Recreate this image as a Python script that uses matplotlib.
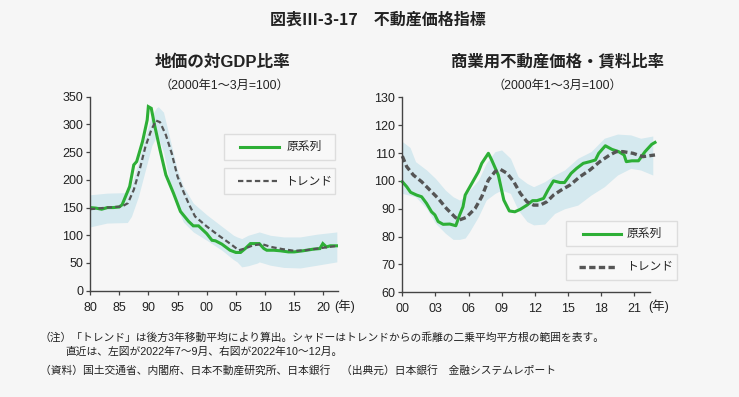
import numpy as np
import matplotlib
matplotlib.use('Agg')
import matplotlib.pyplot as plt
from matplotlib.lines import Line2D
from matplotlib.patches import Rectangle

plt.rcParams['font.family'] = ['Liberation Sans', 'Noto Sans CJK JP', 'DejaVu Sans']

# --- 地価の対GDP比率 (左図) ---
land_x = [1980.0, 1981.0, 1982.0, 1983.0, 1984.0, 1985.0, 1985.5, 1986.8, 1987.5, 1988.0,
          1989.0, 1989.8, 1990.0, 1990.5, 1991.0, 1992.0, 1993.0, 1994.3, 1995.5, 1996.9,
          1997.7, 1998.6, 2000.0, 2000.9, 2001.5, 2002.6, 2004.0, 2005.0, 2005.8, 2006.6,
          2007.5, 2009.0, 2009.8, 2010.3, 2011.5, 2012.6, 2014.0, 2015.0, 2016.5, 2018.3,
          2019.4, 2019.9, 2020.5, 2021.2, 2022.5]
land_raw = [150, 149, 147, 150, 150, 151, 155, 188, 227, 233,
            269, 308, 332, 329, 302, 254, 209, 176, 143, 125,
            117, 117, 103, 91, 90, 84, 73, 69, 69, 76,
            85, 85, 76, 73, 73, 72, 70, 70, 72, 75,
            76, 85, 79, 81, 81]

land_trend_x = [1980.0, 1983.0, 1985.5, 1986.5, 1987.5, 1988.5, 1989.5, 1990.5, 1991.3, 1992.0,
                1993.0, 1994.0, 1995.0, 1996.0, 1997.0, 1998.0, 2000.0, 2002.0, 2004.0, 2005.5,
                2006.5, 2008.0, 2009.5, 2011.0, 2013.0, 2015.0, 2017.0, 2019.0, 2021.0, 2022.5]
land_trend = [147, 150, 152, 158, 182, 218, 260, 290, 307, 304,
              281, 248, 206, 179, 155, 134, 116, 100, 85, 73,
              76, 82, 84, 79, 75, 72, 73, 76, 79, 81]

land_band_x = [1980.0, 1982.9, 1986.4, 1987.1, 1988.3, 1989.5, 1990.6, 1991.4, 1991.7, 1992.6,
               1993.7, 1994.9, 1996.0, 1997.7, 2000.0, 2002.6, 2004.6, 2005.2, 2006.0, 2007.1,
               2008.7, 2009.0, 2010.9, 2013.2, 2016.0, 2018.9, 2022.3]
land_band_hi = [173, 176, 177, 190, 232, 280, 316, 330, 332, 322,
                274, 220, 188, 158, 137, 116, 100, 97, 94, 100,
                105, 106, 100, 97, 97, 102, 106]
land_band_lo = [115, 122, 123, 134, 170, 218, 262, 278, 276, 250,
                194, 150, 124, 106, 91, 73, 56, 52, 43, 45,
                50, 52, 46, 42, 41, 46, 52]

# --- 商業用不動産価格・賃料比率 (右図) ---
com_x = [2000.0, 2000.4, 2000.75, 2001.3, 2001.75, 2002.2, 2002.65, 2002.95, 2003.25, 2003.7,
         2004.3, 2004.85, 2005.2, 2005.5, 2005.7, 2006.3, 2006.9, 2007.2, 2007.8, 2008.1,
         2008.7, 2009.2, 2009.7, 2010.2, 2010.7, 2011.3, 2011.8, 2012.2, 2012.8, 2013.2,
         2013.7, 2014.3, 2014.7, 2015.3, 2015.8, 2016.4, 2017.0, 2017.5, 2017.8, 2018.4,
         2019.0, 2019.6, 2020.1, 2020.3, 2020.8, 2021.4, 2022.0, 2022.6, 2022.9]
com_raw = [99.7, 97.9, 95.9, 94.9, 94.3, 91.9, 88.9, 87.8, 85.4, 84.4,
           84.5, 83.9, 87.8, 90.7, 94.9, 99.1, 103.3, 106.3, 109.9, 107.5,
           102.1, 93.1, 89.2, 88.9, 89.8, 91.3, 92.9, 92.9, 93.7, 96.7,
           100.0, 99.4, 99.4, 102.7, 104.5, 106.3, 106.9, 107.5, 109.9, 112.6,
           111.3, 110.5, 109.3, 106.9, 107.2, 107.2, 110.5, 113.1, 113.8]

com_trend_x = [2000.0, 2000.4, 2001.0, 2001.75, 2002.5, 2003.25, 2004.0, 2004.8, 2005.2, 2005.8,
               2006.6, 2007.2, 2007.8, 2008.4, 2008.9, 2009.5, 2010.1, 2010.7, 2011.3, 2011.9,
               2012.5, 2013.1, 2013.7, 2014.4, 2015.2, 2016.1, 2017.0, 2017.9, 2018.8, 2019.4,
               2020.0, 2020.9, 2021.8, 2022.9]
com_trend = [108.9, 105.1, 102.1, 99.7, 96.7, 93.7, 90.1, 86.9, 86.0, 86.9,
             90.1, 94.3, 100.3, 103.3, 104.1, 102.7, 99.7, 95.5, 92.5, 91.3,
             91.3, 92.5, 94.9, 96.7, 98.5, 101.5, 103.9, 106.9, 109.3, 110.5,
             110.5, 109.9, 108.7, 109.3]

com_band_x = [2000.0, 2000.7, 2001.2, 2002.2, 2003.0, 2003.9, 2004.6, 2005.2, 2005.7, 2006.1,
              2006.9, 2007.6, 2008.4, 2009.0, 2009.8, 2010.5, 2011.3, 2011.9, 2012.9, 2013.8,
              2014.7, 2015.9, 2017.1, 2018.3, 2019.5, 2020.7, 2021.6, 2022.7]
com_band_hi = [114.1, 112.0, 106.9, 103.9, 100.9, 96.7, 94.3, 93.1, 94.5, 96.7,
               100.3, 106.3, 110.5, 111.1, 108.1, 101.5, 99.1, 97.9, 99.7, 102.1,
               103.9, 108.1, 110.5, 115.3, 116.8, 116.5, 115.3, 116.1]
com_band_lo = [95.5, 94.8, 94.3, 90.1, 84.8, 81.2, 79.0, 79.0, 79.5, 81.8,
               87.2, 93.1, 95.5, 96.7, 95.5, 89.5, 85.4, 84.2, 84.5, 88.3,
               90.0, 91.3, 94.9, 97.9, 102.1, 104.5, 103.9, 102.1]

green = '#2daf36'
grey = '#555555'
band = '#d5e9ef'
bg = '#f6f6f6'
spine_c = '#444444'
txt_c = '#222222'

fig = plt.figure(figsize=(7.39, 3.97), dpi=100, facecolor=bg)

W, H = 739.0, 397.0


def axes_px(x0, y_top, x1, y_bot):
    return [x0 / W, 1 - y_bot / H, (x1 - x0) / W, (y_bot - y_top) / H]


ax1 = fig.add_axes(axes_px(90, 96.7, 338, 290.7))
ax2 = fig.add_axes(axes_px(402.3, 97.3, 656.1, 292.3))

ax1.fill_between(land_band_x, land_band_lo, land_band_hi, color=band, lw=0)
ax1.plot(land_x, land_raw, color=green, lw=2.2, solid_joinstyle='miter')
ax1.plot(land_trend_x, land_trend, color=grey, lw=1.6, dashes=(2.4, 1.4))
ax1.set_xlim(1980, 2022.5)
ax1.set_ylim(0, 350)
ax1.set_yticks(np.arange(0, 351, 50))
ax1.set_xticks(np.arange(1980, 2021, 5))
ax1.set_xticklabels(['80', '85', '90', '95', '00', '05', '10', '15', '20'])

ax2.fill_between(com_band_x, com_band_lo, com_band_hi, color=band, lw=0)
ax2.plot(com_x, com_raw, color=green, lw=2.2, clip_on=False)
ax2.plot(com_trend_x, com_trend, color=grey, lw=2.4, dashes=(1.9, 1.0), clip_on=False)
ax2.set_xlim(2000, 2023)
ax2.set_ylim(60, 130)
ax2.set_yticks(np.arange(60, 131, 10))
ax2.set_xticks(np.arange(2000, 2022, 3))
ax2.set_xticklabels(['00', '03', '06', '09', '12', '15', '18', '21'])
ax2.spines['bottom'].set_bounds(2000, 2022.45)

for ax in (ax1, ax2):
    ax.set_facecolor(bg)
    ax.spines['top'].set_visible(False)
    ax.spines['right'].set_visible(False)
    for s in ('left', 'bottom'):
        ax.spines[s].set_color(spine_c)
        ax.spines[s].set_linewidth(1.0)
    ax.tick_params(axis='both', direction='out', length=3, width=0.9,
                   color=spine_c, labelsize=9, labelcolor=txt_c)
    ax.tick_params(axis='x', pad=5)
    ax.tick_params(axis='y', pad=2)

ax1.text(1.028, -0.08, '(年)', transform=ax1.transAxes, ha='center', va='center',
         fontsize=9, color=txt_c)
ax2.text(1.008, -0.07, '(年)', transform=ax2.transAxes, ha='center', va='center',
         fontsize=9, color=txt_c)

# titles
fig.text(378 / W, 1 - 20 / H, '図表Ⅲ-3-17　不動産価格指標', ha='center', va='center',
         fontsize=11.5, fontweight='bold', color=txt_c,
         family=['Noto Sans CJK JP', 'DejaVu Sans'])
fig.text(222 / W, 1 - 62 / H, '地価の対GDP比率', ha='center', va='center',
         fontsize=12, fontweight='bold', color=txt_c)
fig.text(557 / W, 1 - 62 / H, '商業用不動産価格・賃料比率', ha='center', va='center',
         fontsize=11.8, fontweight='bold', color=txt_c)
fig.text(224 / W, 1 - 86 / H, '（2000年1～3月=100）', ha='center', va='center',
         fontsize=8.8, color=txt_c)
fig.text(557 / W, 1 - 86 / H, '（2000年1～3月=100）', ha='center', va='center',
         fontsize=8.8, color=txt_c)


def legend_box(x0, y0, x1, y1, lx0, lx1, tx, label, **line_kw):
    fig.add_artist(Rectangle((x0 / W, 1 - y1 / H), (x1 - x0) / W, (y1 - y0) / H,
                             transform=fig.transFigure, facecolor='#f8f8f8',
                             edgecolor='#dddddd', lw=1.0))
    yc = 1 - (y0 + y1) / 2 / H
    fig.add_artist(Line2D([lx0 / W, lx1 / W], [yc, yc], transform=fig.transFigure, **line_kw))
    fig.text(tx / W, yc, label, ha='left', va='center', fontsize=8.5, color=txt_c)


legend_box(224, 134, 335, 160, 240, 279, 287, '原系列', color=green, lw=2.2)
legend_box(224, 168, 335, 194, 238, 277, 285, 'トレンド', color=grey, lw=1.6, dashes=(2.4, 1.4))
legend_box(566, 221, 677, 246, 583, 621, 627, '原系列', color=green, lw=2.2)
legend_box(566, 254, 677, 280, 579, 617, 626, 'トレンド', color=grey, lw=2.4, dashes=(1.9, 1.0))

# notes
note_kw = dict(ha='left', va='center', fontsize=7.75, color=txt_c)
fig.text(40 / W, 1 - 337 / H,
         '（注）「トレンド」は後方3年移動平均により算出。シャドーはトレンドからの乖離の二乗平均平方根の範囲を表す。',
         **note_kw)
fig.text(65 / W, 1 - 352 / H, '直近は、左図が2022年7～9月、右図が2022年10～12月。', **note_kw)
fig.text(40 / W, 1 - 370 / H,
         '（資料）国土交通省、内閣府、日本不動産研究所、日本銀行　（出典元）日本銀行　金融システムレポート',
         **note_kw)

fig.savefig('out.png', dpi=100, facecolor=bg)
